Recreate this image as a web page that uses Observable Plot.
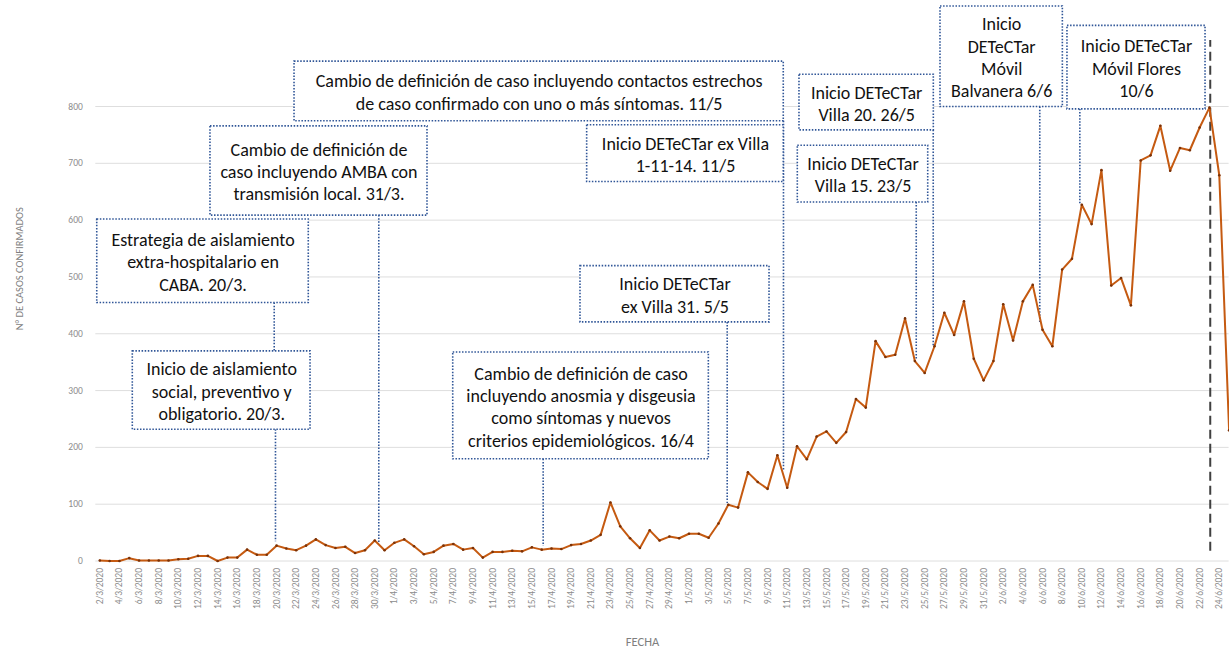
<!DOCTYPE html>
<html><head><meta charset="utf-8">
<script src="https://cdn.jsdelivr.net/npm/d3@7"></script>
<script src="https://cdn.jsdelivr.net/npm/@observablehq/plot@0.6"></script>
<style>body{margin:0;background:#fff} svg{display:block}</style>
</head><body><div id="chart"></div>
<script>
// Casos confirmados diarios, 2/3/2020 a 25/6/2020
const casos = [
  1,0,0,5,1,1,1,1,3,4,9,9,0,6,6,20,11,11,27,22,19,27,38,28,23,25,14,19,36,19,
  32,38,26,12,16,27,30,20,23,6,16,16,18,17,24,20,22,21,28,30,36,46,103,61,40,23,54,36,43,40,
  48,48,41,66,99,94,156,139,127,186,129,202,179,219,228,208,227,285,270,387,359,363,427,352,331,378,437,398,457,356,318,
  352,452,388,457,486,407,378,513,532,627,593,688,485,498,450,705,714,766,687,727,723,763,798,679,230
];
const inicio = Date.UTC(2020, 2, 2);
const day = d => new Date(inicio + d * 864e5);
const fechas = casos.map((_, i) => day(i));
const datos = fechas.map((f, i) => ({fecha: f, casos: casos[i]}));
const yTicks = [0, 100, 200, 300, 400, 500, 600, 700, 800];
const xTicks = fechas.filter((f, i) => i % 2 === 0 && i <= 114);
const fmt = d3.utcFormat("%-d/%-m/%Y");

// Anotaciones: d = días desde 2/3, v = casos
const anotaciones = [
  {texto: "Inicio de aislamiento\nsocial, preventivo y\nobligatorio. 20/3.", d1: 3.36, d2: 21.46, v1: 231, v2: 369},
  {texto: "Estrategia de aislamiento\nextra-hospitalario en\nCABA. 20/3.", d1: -0.26, d2: 21.28, v1: 454, v2: 601},
  {texto: "Cambio de definición de\ncaso incluyendo AMBA con\ntransmisión local. 31/3.", d1: 11.27, d2: 33.37, v1: 608, v2: 765},
  {texto: "Cambio de definición de caso incluyendo contactos estrechos\nde caso confirmado con uno o más síntomas. 11/5", d1: 19.83, d2: 69.65, v1: 774, v2: 879},
  {texto: "Inicio DETeCTar ex Villa\n1-11-14. 11/5", d1: 49.63, d2: 69.65, v1: 667, v2: 767},
  {texto: "Inicio DETeCTar\nex Villa 31. 5/5", d1: 48.95, d2: 68.2, v1: 420, v2: 519},
  {texto: "Cambio de definición de caso\nincluyendo anosmia y disgeusia\ncomo síntomas y nuevos\ncriterios epidemiológicos. 16/4", d1: 35.99, d2: 62.02, v1: 179, v2: 367},
  {texto: "Inicio DETeCTar\nVilla 20. 26/5", d1: 71.25, d2: 84.93, v1: 758, v2: 856},
  {texto: "Inicio DETeCTar\nVilla 15. 23/5", d1: 71.08, d2: 84.36, v1: 631, v2: 731},
  {texto: "Inicio\nDETeCTar\nMóvil\nBalvanera 6/6", d1: 85.61, d2: 98.07, v1: 799, v2: 976},
  {texto: "Inicio DETeCTar\nMóvil Flores\n10/6", d1: 98.54, d2: 112.6, v1: 795, v2: 942}
];
const conectores = [
  {d: 17.89, v1: 231, v2: 34},
  {d: 17.76, v1: 454, v2: 369},
  {d: 28.41, v1: 608, v2: 31},
  {d: 69.62, v1: 774, v2: 159},
  {d: 63.89, v1: 420, v2: 101},
  {d: 45.15, v1: 179, v2: 26},
  {d: 84.87, v1: 758, v2: 378},
  {d: 83.14, v1: 631, v2: 353},
  {d: 95.72, v1: 799, v2: 418},
  {d: 99.8, v1: 795, v2: 628}
];
const corte = [{d: 113.08, v1: 17, v2: 916}];

const fuente = "Carlito, Calibri, Lato, sans-serif";
const azul = "#2f5597";
const gris = "#8c8c8c";

const chart = Plot.plot({
  width: 1229, height: 655,
  marginTop: 106, marginBottom: 94.5, marginLeft: 99.3, marginRight: 0.4,
  x: {type: "utc", domain: [fechas[0], fechas[115]]},
  y: {domain: [0, 800]},
  style: {fontFamily: fuente, background: "white", overflow: "visible"},
  marks: [
    Plot.ruleY(yTicks, {stroke: "#dedede", strokeWidth: 1, insetLeft: -4}),
    Plot.axisY({ticks: yTicks, tickSize: 0, tickPadding: 17, fontSize: 9.5, color: gris, label: null}),
    Plot.axisX({ticks: xTicks, tickFormat: fmt, tickRotate: -90, tickSize: 0, tickPadding: 7, fontSize: 9.5, color: gris, label: null}),
    Plot.text(["N° DE CASOS CONFIRMADOS"], {frameAnchor: "left", textAnchor: "middle", dx: -80, dy: -65, rotate: -90, fontSize: 10.5, fill: "#7f7f7f"}),
    Plot.text(["FECHA"], {frameAnchor: "bottom", dx: -22, dy: 84.5, fontSize: 12.5, fill: "#7f7f7f"}),
    Plot.ruleX(conectores, {x: d => day(d.d), y1: "v1", y2: "v2", stroke: azul, strokeWidth: 1.6, strokeDasharray: "1.5 1.6"}),
    Plot.ruleX(corte, {x: d => day(d.d), y1: "v1", y2: "v2", stroke: "#404040", strokeWidth: 2, strokeDasharray: "9 5"}),
    Plot.lineY(datos, {x: "fecha", y: "casos", stroke: "#c55a11", strokeWidth: 2}),
    Plot.dot(datos, {x: "fecha", y: "casos", r: 1.3, fill: "#7a3208", stroke: null}),
    Plot.rect(anotaciones, {x1: d => day(d.d1), x2: d => day(d.d2), y1: "v1", y2: "v2", fill: "white", stroke: azul, strokeWidth: 1.6, strokeDasharray: "1.5 1.6"}),
    Plot.text(anotaciones, {x: d => day((d.d1 + d.d2) / 2), y: d => (d.v1 + d.v2) / 2, text: "texto", fontSize: 18, lineHeight: 1.24, fill: "#111", textAnchor: "middle"})
  ]
});
document.getElementById("chart").appendChild(chart);
</script>
</body></html>
